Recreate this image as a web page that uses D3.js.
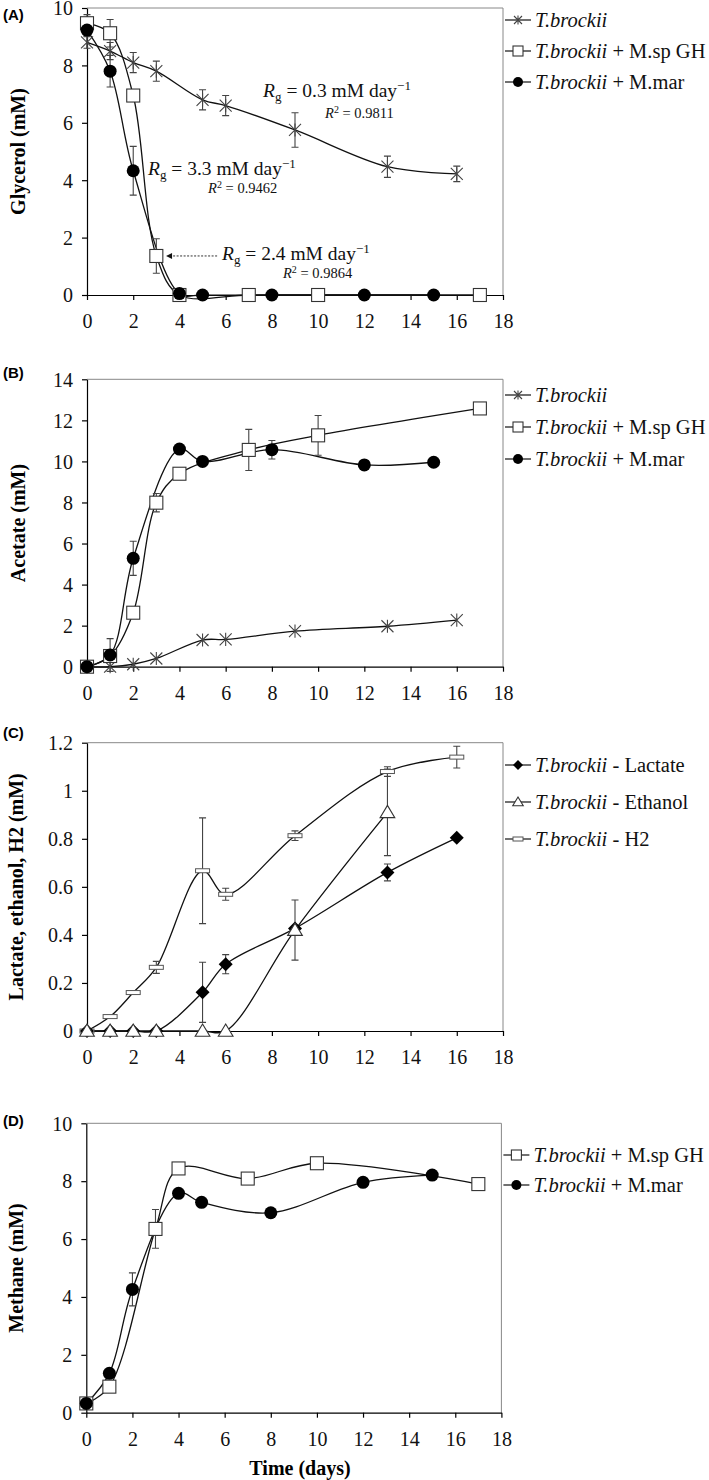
<!DOCTYPE html>
<html><head><meta charset="utf-8">
<script src="https://cdn.jsdelivr.net/npm/d3@7"></script>
<style>body{margin:0;background:#fff}svg{display:block}</style>
</head><body>
<script>
// ---------- DATA ----------
const xTicks = [0,2,4,6,8,10,12,14,16,18];

// (A) Glycerol
const glyTbDays = [0,1,2,3,5,6,9,13,16];
const glyTb     = [8.8,8.5,8.1,7.8,6.8,6.6,5.75,4.47,4.22];
const glyTbErr  = [0.2,0.3,0.35,0.35,0.35,0.35,0.6,0.37,0.27];
const glyGhDays = [0,1,2,3,4,7,10,17];
const glyGh     = [9.47,9.12,6.95,1.36,0,0,0,0];
const glyGhErr  = [0.3,0.48,0,0.6,0,0,0,0];
const glyMmDays = [0,1,2,4,5,8,12,15];
const glyMm     = [9.23,7.8,4.33,0.05,0,0,0,0];
const glyMmErr  = [0.2,0.55,0.85,0,0,0,0,0];
const glyYTicks = [0,2,4,6,8,10];

// (B) Acetate
const acTbDays = [0,1,2,3,5,6,9,13,16];
const acTb     = [0,0,0.12,0.4,1.3,1.33,1.73,1.97,2.27];
const acTbErr  = [0,0,0,0,0,0,0,0,0];
const acGhDays = [0,1,2,3,4,7,10,17];
const acGh     = [0,0.52,2.63,7.99,9.4,10.56,11.27,12.58];
const acGhErr  = [0,0,0,0.45,0,1.0,0.97,0.2];
const acMmDays = [0,1,2,4,5,8,12,15];
const acMm     = [0,0.57,5.28,10.6,10.0,10.57,9.83,9.96];
const acMmErr  = [0,0.8,0.83,0,0,0.45,0,0];
const acYTicks = [0,2,4,6,8,10,12,14];

// (C) Lactate, ethanol, H2
const lacDays = [0,1,2,3,5,6,9,13,16];
const lac     = [0,0,0,0,0.161,0.278,0.427,0.66,0.804];
const lacErr  = [0,0,0,0,0.125,0.04,0,0.035,0];
const ethDays = [0,1,2,3,5,6,9,13];
const eth     = [0,0,0,0,0,0,0.42,0.91];
const ethErr  = [0,0,0,0,0,0,0.125,0.18];
const h2Days  = [0,1,2,3,5,6,9,13,16];
const h2      = [0,0.06,0.16,0.265,0.667,0.569,0.813,1.08,1.14];
const h2Err   = [0,0,0.005,0.025,0.22,0.025,0.02,0.02,0.045];
const cYTicks = [0,0.2,0.4,0.6,0.8,1,1.2];

// (D) Methane
const meGhDays = [0,1,3,4,7,10,17];
const meGh     = [0.32,0.9,6.35,8.44,8.09,8.62,7.9];
const meGhErr  = [0,0,0.67,0,0,0,0];
const meMmDays = [0,1,2,4,5,8,12,15];
const meMm     = [0.32,1.36,4.26,7.58,7.27,6.91,7.96,8.21];
const meMmErr  = [0,0,0.57,0,0,0,0,0];
const meYTicks = [0,2,4,6,8,10];

// ---------- DRAW ----------
const W = 709, H = 1480;
const svg = d3.select("body").append("svg").attr("width", W).attr("height", H);
const SERIF = "Liberation Serif";
const SANS = "Liberation Sans";

function zip(days, vals, errs){ return days.map((d,i)=>({x:d,y:vals[i],e:errs[i]})); }

function marker(g, type, s){
  const col = "#333";
  if(type==="star"){
    const p = `M${-s},${-s}L${s},${s}M${-s},${s}L${s},${-s}M0,${-s*1.1}L0,${s*1.1}`;
    g.append("path").attr("d",p).attr("stroke","#444").attr("stroke-width",1.1).attr("fill","none");
  } else if(type==="square"){
    g.append("rect").attr("x",-s).attr("y",-s).attr("width",2*s).attr("height",2*s)
      .attr("fill","#fff").attr("stroke",col).attr("stroke-width",1.1);
  } else if(type==="circle"){
    g.append("circle").attr("r",s).attr("fill","#000");
  } else if(type==="diamond"){
    g.append("path").attr("d",`M0,${-s}L${s},0L0,${s}L${-s},0Z`).attr("fill","#000");
  } else if(type==="triangle"){
    g.append("path").attr("d",`M0,${-s}L${s*1.05},${s*0.75}L${-s*1.05},${s*0.75}Z`)
      .attr("fill","#fff").attr("stroke",col).attr("stroke-width",1.1);
  } else if(type==="dash"){
    g.append("rect").attr("x",-s).attr("y",-2).attr("width",2*s).attr("height",4)
      .attr("fill","#fff").attr("stroke","#555").attr("stroke-width",1);
  }
}

function panel(cfg){
  const x = d3.scaleLinear().domain([0,18]).range([cfg.left, cfg.right]);
  const y = d3.scaleLinear().domain([0, cfg.ymax]).range([cfg.bottom, cfg.top]);
  const g = svg.append("g");

  g.append("path").attr("d",`M${cfg.left},${cfg.top}H${cfg.right}V${cfg.bottom}`)
    .attr("fill","none").attr("stroke","#888").attr("stroke-width",1);

  const xa = g.append("g").attr("transform",`translate(0,${cfg.bottom})`)
    .call(d3.axisBottom(x).tickValues(xTicks).tickSize(5).tickSizeOuter(0).tickFormat(d3.format("d")));
  const ya = g.append("g").attr("transform",`translate(${cfg.left},0)`)
    .call(d3.axisLeft(y).tickValues(cfg.yTicks).tickSize(5).tickSizeOuter(0).tickFormat(d=>String(+d.toFixed(1))));
  [xa,ya].forEach(a=>{
    a.attr("font-family",SERIF).attr("font-size",20);
    a.select(".domain").attr("stroke","#000").attr("stroke-width",1.2);
    a.selectAll(".tick line").attr("stroke","#000").attr("stroke-width",1.2);
    a.selectAll("text").attr("fill","#111");
  });
  xa.selectAll("text").attr("y",33).attr("dy","0");
  ya.selectAll("text").attr("x",-14).attr("dy","0.34em");

  g.append("text").attr("transform",`translate(${cfg.titleX},${(cfg.top+cfg.bottom)/2}) rotate(-90)`)
    .attr("text-anchor","middle").attr("dominant-baseline","central")
    .attr("font-family",SERIF).attr("font-weight","bold").attr("font-size",20).text(cfg.title);
  g.append("text").attr("x",3).attr("y",cfg.labelY).attr("dominant-baseline","central")
    .attr("font-family",SANS).attr("font-weight","bold").attr("font-size",15).text(cfg.label);

  const line = d3.line().x(d=>x(d.x)).y(d=>y(d.y)).curve(d3.curveCatmullRom.alpha(0.5));
  cfg.series.forEach(s=>{
    g.append("path").attr("d",line(s.data)).attr("fill","none").attr("stroke","#111").attr("stroke-width",1.3);
  });
  cfg.series.forEach(s=>{
    s.data.filter(d=>d.e>0).forEach(d=>{
      const cx = x(d.x), y1 = y(d.y+d.e), y2 = y(d.y-d.e);
      g.append("path").attr("d",`M${cx},${y1}V${y2}M${cx-3.5},${y1}H${cx+3.5}M${cx-3.5},${y2}H${cx+3.5}`)
        .attr("stroke","#444").attr("stroke-width",1.1).attr("fill","none");
    });
  });
  cfg.series.forEach(s=>{
    s.data.forEach(d=>{
      const mg = g.append("g").attr("transform",`translate(${x(d.x)},${y(d.y)})`);
      marker(mg, s.type, s.size);
    });
  });
  cfg.legend.forEach((l,i)=>{
    const ly = cfg.legendY[i];
    const lx = cfg.right + 2;
    g.append("line").attr("x1",lx).attr("x2",lx+26).attr("y1",ly).attr("y2",ly).attr("stroke","#111").attr("stroke-width",1.2);
    const mg = g.append("g").attr("transform",`translate(${lx+13},${ly})`);
    marker(mg, l.type, l.size);
    const t = g.append("text").attr("x",lx+30).attr("y",ly).attr("dy","0.35em")
      .attr("font-family",SERIF).attr("font-size",20.5).attr("fill","#111");
    t.append("tspan").attr("font-style","italic").text("T.brockii");
    t.append("tspan").text(l.rest);
  });
  return {x,y,g};
}

const A = panel({top:8,bottom:295,left:87,right:503,ymax:10,yTicks:glyYTicks,title:"Glycerol (mM)",titleX:18,label:"(A)",labelY:14,
  series:[
    {type:"star",size:6,data:zip(glyTbDays,glyTb,glyTbErr)},
    {type:"square",size:6.5,data:zip(glyGhDays,glyGh,glyGhErr)},
    {type:"circle",size:6.5,data:zip(glyMmDays,glyMm,glyMmErr)}],
  legend:[{type:"star",size:4,rest:""},{type:"square",size:5,rest:" + M.sp GH"},{type:"circle",size:5,rest:" + M.mar"}],
  legendY:[20,51,82]});

panel({top:379.3,bottom:666.7,left:87,right:503,ymax:14,yTicks:acYTicks,title:"Acetate (mM)",titleX:18,label:"(B)",labelY:372,
  series:[
    {type:"star",size:6,data:zip(acTbDays,acTb,acTbErr)},
    {type:"square",size:6.5,data:zip(acGhDays,acGh,acGhErr)},
    {type:"circle",size:6.5,data:zip(acMmDays,acMm,acMmErr)}],
  legend:[{type:"star",size:4,rest:""},{type:"square",size:5,rest:" + M.sp GH"},{type:"circle",size:5,rest:" + M.mar"}],
  legendY:[395,427,459]});

panel({top:742.7,bottom:1031,left:87,right:503,ymax:1.2,yTicks:cYTicks,title:"Lactate, ethanol, H2 (mM)",titleX:16,label:"(C)",labelY:732,
  series:[
    {type:"dash",size:7,data:zip(h2Days,h2,h2Err)},
    {type:"diamond",size:7,data:zip(lacDays,lac,lacErr)},
    {type:"triangle",size:7,data:zip(ethDays,eth,ethErr)}],
  legend:[{type:"diamond",size:5,rest:" - Lactate"},{type:"triangle",size:5,rest:" - Ethanol"},{type:"dash",size:5,rest:" - H2"}],
  legendY:[765,802,839]});

panel({top:1123.3,bottom:1412.7,left:86.3,right:501.4,ymax:10,yTicks:meYTicks,title:"Methane (mM)",titleX:16,label:"(D)",labelY:1120,
  series:[
    {type:"square",size:6.5,data:zip(meGhDays,meGh,meGhErr)},
    {type:"circle",size:6.5,data:zip(meMmDays,meMm,meMmErr)}],
  legend:[{type:"square",size:5,rest:" + M.sp GH"},{type:"circle",size:5,rest:" + M.mar"}],
  legendY:[1155,1185]});

svg.append("text").attr("x",300).attr("y",1468).attr("text-anchor","middle").attr("dominant-baseline","central")
  .attr("font-family",SERIF).attr("font-weight","bold").attr("font-size",20).text("Time (days)");

// Annotations in panel A
function rgText(dx, dy, val){
  const t = A.g.append("text").attr("x",A.x(dx)).attr("y",A.y(dy)).attr("font-family",SERIF).attr("font-size",19.5).attr("fill","#111");
  t.append("tspan").attr("font-style","italic").text("R");
  t.append("tspan").attr("font-size",13).attr("dy",4).text("g");
  t.append("tspan").attr("dy",-4).text(` = ${val} mM day`);
  t.append("tspan").attr("font-size",13).attr("dy",-7).text("−1");
}
function r2Text(dx, dy, val){
  const t = A.g.append("text").attr("x",A.x(dx)).attr("y",A.y(dy)).attr("font-family",SERIF).attr("font-size",14.5).attr("fill","#111");
  t.append("tspan").attr("font-style","italic").text("R");
  t.append("tspan").attr("font-size",10).attr("dy",-5).text("2");
  t.append("tspan").attr("dy",5).text(` = ${val}`);
}
const rgLabels = [{x:7.62,y:6.9,v:"0.3"},{x:2.64,y:4.18,v:"3.3"},{x:5.84,y:1.22,v:"2.4"}];
const r2Labels = [{x:10.3,y:6.17,v:"0.9811"},{x:5.24,y:3.55,v:"0.9462"},{x:8.48,y:0.59,v:"0.9864"}];
rgLabels.forEach(d=>rgText(d.x,d.y,d.v));
r2Labels.forEach(d=>r2Text(d.x,d.y,d.v));
const ax1 = A.x(5.63), ax2 = A.x(3.42), ay = A.y(1.36);
A.g.append("line").attr("x1",ax1).attr("x2",ax2+5).attr("y1",ay).attr("y2",ay)
  .attr("stroke","#333").attr("stroke-width",1).attr("stroke-dasharray","2,1.5");
A.g.append("path").attr("d",`M${ax2},${ay}l6,-3v6z`).attr("fill","#111");
</script>
</body></html>
